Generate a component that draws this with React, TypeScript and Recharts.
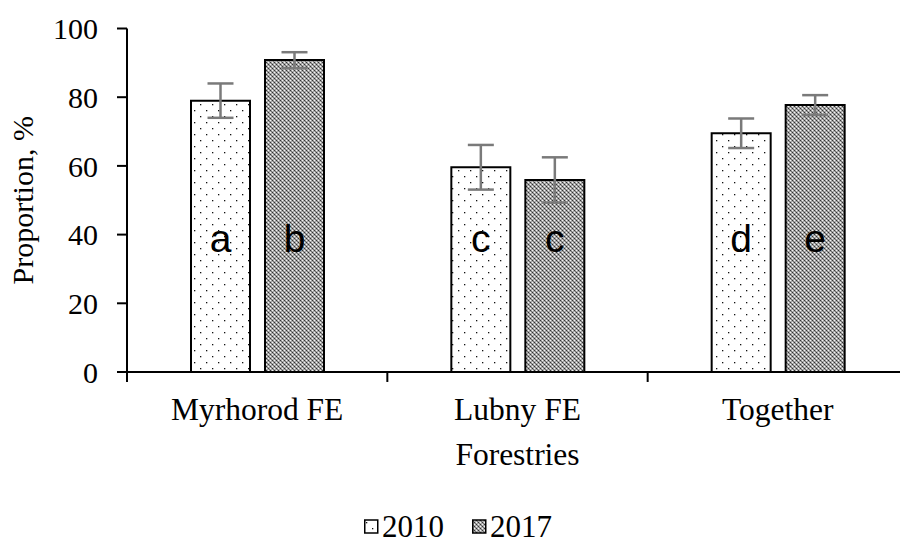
import React from 'react'
import { BarChart, Bar, XAxis, YAxis, ErrorBar, LabelList, Legend, ReferenceLine } from 'recharts'

const categories = ['Myrhorod FE', 'Lubny FE', 'Together']
const values2010 = [79, 59.6, 69.5]
const values2017 = [90.8, 55.9, 77.7]
const errors2010 = [5, 6.5, 4.3]
const errors2017 = [2.3, 6.6, 2.9]
const letters2010 = ['a', 'c', 'd']
const letters2017 = ['b', 'c', 'e']
const yTicks = [0, 20, 40, 60, 80, 100]
const seriesNames = ['2010', '2017']

const SERIF = '"Liberation Serif", "Times New Roman", serif'
const SANS = '"Liberation Sans", Arial, sans-serif'

const data = categories.map((name, i) => ({
  name,
  v2010: values2010[i],
  v2017: values2017[i],
  e2010: errors2010[i],
  e2017: errors2017[i],
  l2010: letters2010[i],
  l2017: letters2017[i],
}))

// fills shared by bars and legend boxes
function Patterns() {
  return (
    <svg width={0} height={0} style={{ position: 'absolute' }}>
      <defs>
        <pattern id="dots" width={12} height={12} patternUnits="userSpaceOnUse">
          <rect width={12} height={12} fill="#fff" />
          <rect x={2} y={2} width={1.3} height={1.3} fill="#111" />
          <rect x={8} y={8} width={1.3} height={1.3} fill="#111" />
        </pattern>
        <pattern id="checks" width={4} height={4} patternUnits="userSpaceOnUse">
          <rect width={4} height={4} fill="#a8a8a8" />
          <rect x={0} y={0} width={1} height={1} fill="#333" />
          <rect x={2} y={2} width={1} height={1} fill="#333" />
          <rect x={2} y={0} width={1} height={1} fill="#f4f4f4" />
          <rect x={0} y={2} width={1} height={1} fill="#f4f4f4" />
          <rect x={1} y={1} width={1} height={1} fill="#707070" />
          <rect x={3} y={3} width={1} height={1} fill="#707070" />
        </pattern>
      </defs>
    </svg>
  )
}

function Letter(props: any) {
  const { x, y, width, height, value } = props
  return (
    <text
      x={x + width / 2}
      y={y + height - 120}
      textAnchor="middle"
      fontFamily={SANS}
      fontSize={39}
      fill="#000"
    >
      {value}
    </text>
  )
}

function CategoryTick(props: any) {
  const { x, y, payload } = props
  return (
    <text x={x} y={y + 48} textAnchor="middle" fontFamily={SERIF} fontSize={31.5} fill="#000">
      {payload.value}
    </text>
  )
}

function LegendBoxes() {
  const fills = ['url(#dots)', 'url(#checks)']
  return (
    <div style={{ height: 0 }}>
      <svg width={220} height={36} style={{ display: 'block', overflow: 'visible' }}>
        {seriesNames.map((s, i) => (
          <g key={s} transform={`translate(${i * 108},0)`}>
            <rect x={0.75} y={12} width={13} height={13} fill={fills[i]} stroke="#000" strokeWidth={1.5} />
            <text x={18} y={29} fontFamily={SERIF} fontSize={31} fill="#000">{s}</text>
          </g>
        ))}
      </svg>
    </div>
  )
}

export default function App() {
  return (
    <div style={{ position: 'absolute', left: 0, top: 0, width: 900, height: 544, overflow: 'hidden', background: '#fff' }}>
      <Patterns />
      <BarChart
        width={930}
        height={544}
        data={data}
        margin={{ top: 28.5, right: 22, left: 0, bottom: 62 }}
        barCategoryGap={64}
        barGap={15}
      >
        <XAxis
          dataKey="name"
          type="category"
          height={110}
          axisLine={{ stroke: '#000', strokeWidth: 2 }}
          tickLine={false}
          tickSize={0}
          tickMargin={0}
          tick={<CategoryTick />}
          interval={0}
          label={({ viewBox }: any) => (
            <text
              x={viewBox.x + viewBox.width / 2}
              y={viewBox.y + 93}
              textAnchor="middle"
              fontFamily={SERIF}
              fontSize={31.5}
              fill="#000"
            >
              Forestries
            </text>
          )}
        />
        <YAxis
          width={127}
          domain={[0, 100]}
          ticks={yTicks}
          interval={0}
          allowDataOverflow
          axisLine={{ stroke: '#000', strokeWidth: 2 }}
          tickLine={{ stroke: '#000', strokeWidth: 2 }}
          tickSize={10}
          tickMargin={19}
          tick={{ fontFamily: SERIF, fontSize: 30, fill: '#000' }}
          label={({ viewBox }: any) => {
            const cy = viewBox.y + viewBox.height / 2
            return (
              <text
                x={33}
                y={cy}
                transform={`rotate(-90, 33, ${cy})`}
                textAnchor="middle"
                fontFamily={SERIF}
                fontSize={30}
                fill="#000"
              >
                Proportion, %
              </text>
            )
          }}
        />
        {/* category-boundary tick marks under the x axis */}
        {categories.map(c => (
          <ReferenceLine
            key={c}
            segment={[{ x: c, y: 0 }, { x: c, y: -2.9 }]}
            position="start"
            ifOverflow="visible"
            stroke="#000"
            strokeWidth={2}
          />
        ))}
        <Legend
          content={<LegendBoxes />}
          wrapperStyle={{ left: 364, top: 508, bottom: 'auto', width: 240, height: 0 }}
        />
        <Bar dataKey="v2010" name="2010" fill="url(#dots)" stroke="#000" strokeWidth={2} isAnimationActive={false}>
          <ErrorBar dataKey="e2010" width={13} stroke="#7a7a7a" strokeWidth={2.5} direction="y" isAnimationActive={false} />
          <LabelList dataKey="l2010" content={<Letter />} />
        </Bar>
        <Bar dataKey="v2017" name="2017" fill="url(#checks)" stroke="#000" strokeWidth={2} isAnimationActive={false}>
          <ErrorBar dataKey="e2017" width={13} stroke="#7a7a7a" strokeWidth={2.5} direction="y" isAnimationActive={false} />
          <LabelList dataKey="l2017" content={<Letter />} />
        </Bar>
      </BarChart>
    </div>
  )
}
